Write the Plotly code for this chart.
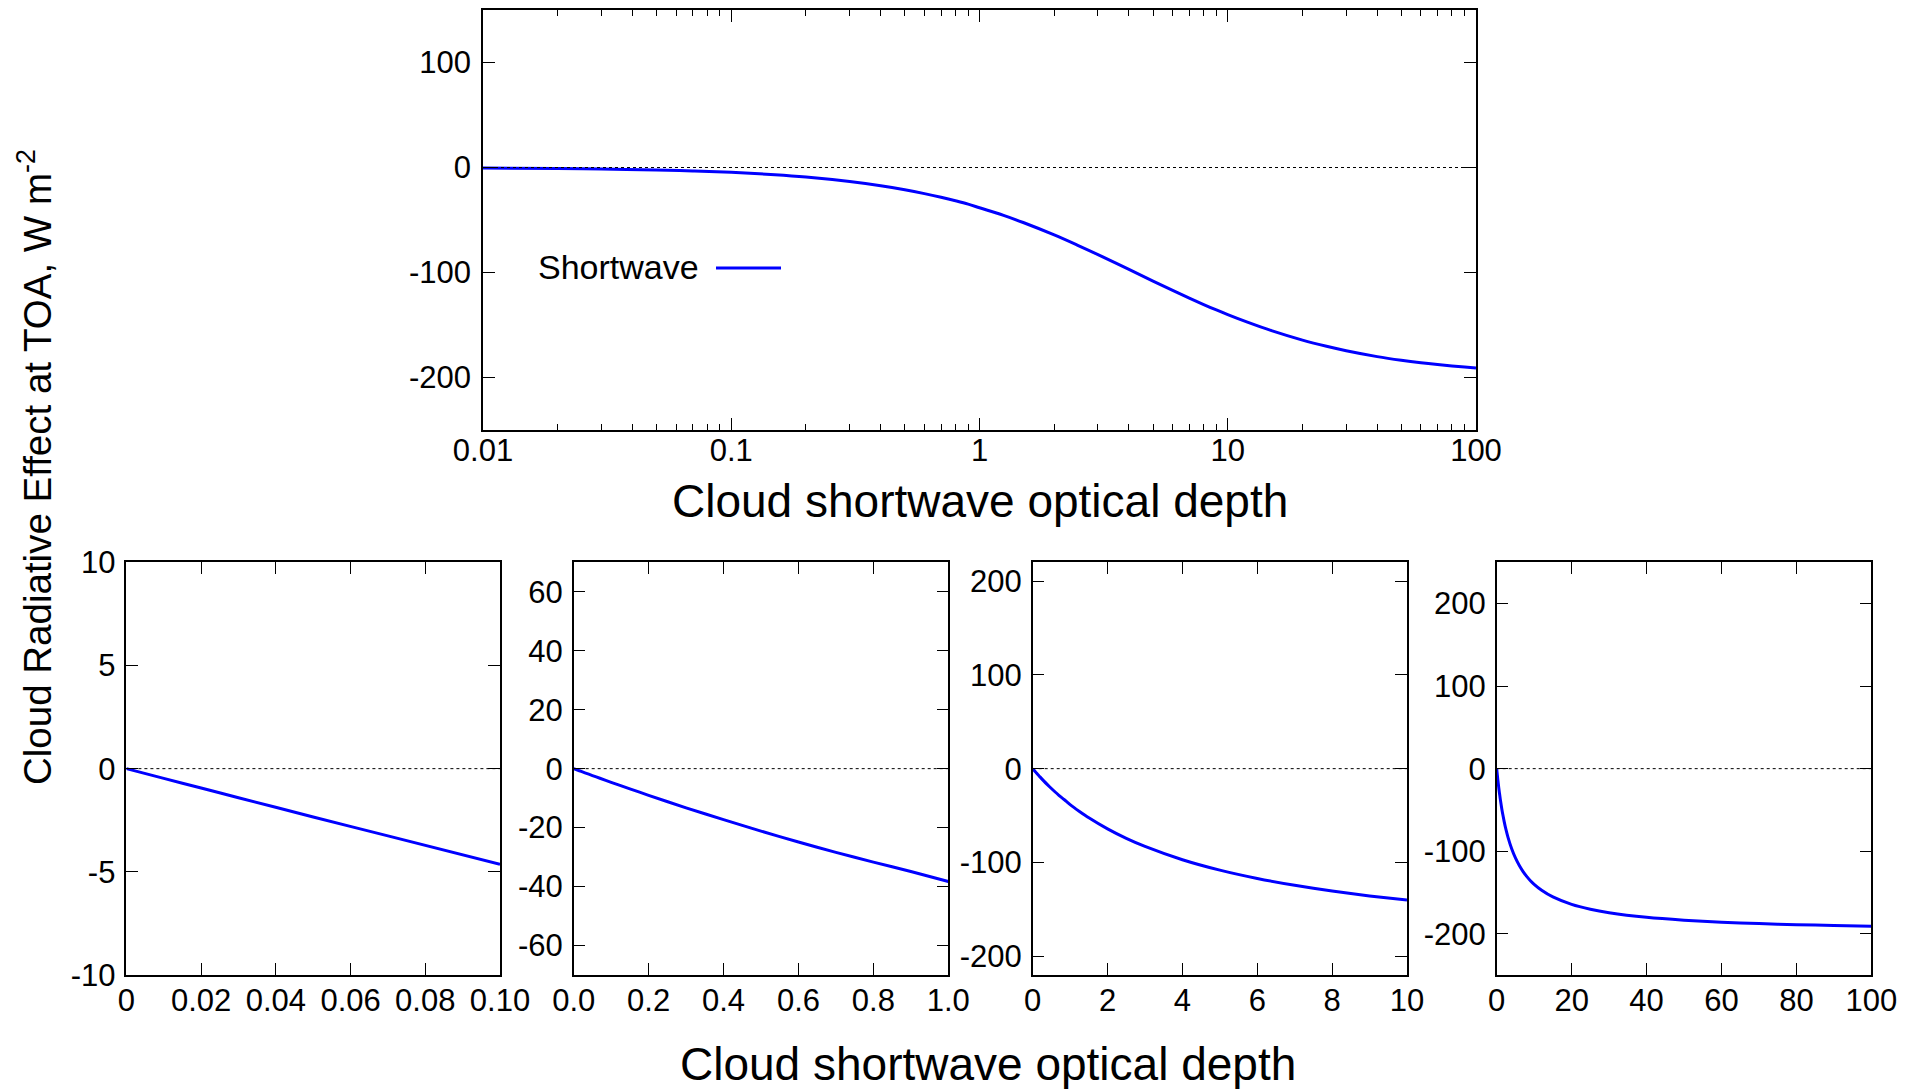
import plotly.graph_objects as go

# ---- data ----
tau = [0, 0.01, 0.02, 0.03, 0.05, 0.07, 0.1, 0.15, 0.2, 0.3, 0.4, 0.5, 0.6, 0.7,
       0.8, 0.9, 1.0, 1.25, 1.5, 2, 2.5, 3, 4, 5, 6, 7, 8, 9, 10, 12, 15, 20,
       25, 30, 40, 50, 60, 70, 80, 90, 100]
cre = [0, -0.47, -0.94, -1.41, -2.34, -3.26, -4.63, -6.86, -9.04, -13.3, -17.3,
       -21.2, -24.9, -28.4, -31.7, -34.9, -38.3, -45.6, -52.4, -64.2, -74.3,
       -82.9, -97.1, -108.2, -117.1, -124.4, -130.5, -135.7, -140.1, -147.3,
       -155.4, -164.4, -170.3, -174.5, -180.1, -183.6, -186.0, -187.7, -189.0,
       -190.1, -191.0]

series_name = "Shortwave"
x_title = "Cloud shortwave optical depth"
y_title = "Cloud Radiative Effect at TOA, W m<sup>-2</sup>"

top_xticks = [0.01, 0.1, 1, 10, 100]
top_xticklabels = ["0.01", "0.1", "1", "10", "100"]
top_yticks = [-200, -100, 0, 100]
top_yticklabels = ["-200", "-100", "0", "100"]

panel_xmax = [0.1, 1.0, 10, 100]
panel_xticks = [[0, 0.02, 0.04, 0.06, 0.08, 0.1],
                [0, 0.2, 0.4, 0.6, 0.8, 1.0],
                [0, 2, 4, 6, 8, 10],
                [0, 20, 40, 60, 80, 100]]
panel_xticklabels = [["0", "0.02", "0.04", "0.06", "0.08", "0.10"],
                     ["0.0", "0.2", "0.4", "0.6", "0.8", "1.0"],
                     ["0", "2", "4", "6", "8", "10"],
                     ["0", "20", "40", "60", "80", "100"]]
panel_yrange = [[-10, 10], [-70, 70], [-220, 220], [-250, 250]]
panel_yticks = [[-10, -5, 0, 5, 10],
                [-60, -40, -20, 0, 20, 40, 60],
                [-200, -100, 0, 100, 200],
                [-200, -100, 0, 100, 200]]
panel_yticklabels = [["-10", "-5", "0", "5", "10"],
                     ["-60", "-40", "-20", "0", "20", "40", "60"],
                     ["-200", "-100", "0", "100", "200"],
                     ["-200", "-100", "0", "100", "200"]]

# ---- figure ----
OFF = 8                      # browser body margin
W, H = 1929 - OFF, 1089 - OFF
FONT = "Liberation Sans, Arial, Helvetica, sans-serif"
BLUE = "#0000ff"

def fx(px):
    return (px - OFF) / W

def fy(py):
    return 1 - (py - OFF) / H

fig = go.Figure()

axis_common = dict(showline=True, linecolor="black", linewidth=1.5, mirror="ticks",
                   ticks="inside", ticklen=12, tickwidth=1.2, tickcolor="black",
                   showgrid=False, zeroline=False, automargin=False,
                   tickfont=dict(family=FONT, size=31, color="black"))

# top log panel
lx = [t for t in tau if t > 0]
ly = [c for t, c in zip(tau, cre) if t > 0]
fig.add_trace(go.Scatter(x=lx, y=ly, mode="lines", line=dict(color=BLUE, width=3, shape="spline"),
                         xaxis="x", yaxis="y", showlegend=False, name=series_name))
fig.update_layout(
    xaxis=dict(domain=[fx(483), fx(1476)], type="log", range=[-2, 2], anchor="y",
               tickvals=top_xticks, ticktext=top_xticklabels, ticklabelstandoff=-8,
               minor=dict(ticks="inside", ticklen=6, tickcolor="black", tickwidth=1, dtick="D1"),
               **axis_common),
    yaxis=dict(domain=[fy(430), fy(10)], range=[-250, 150], anchor="x",
               tickvals=top_yticks, ticktext=top_yticklabels, ticklabelstandoff=4,
               **axis_common),
)
fig.add_shape(type="line", xref="x domain", yref="y", x0=0, x1=1, y0=0, y1=0,
              line=dict(color="black", width=1, dash="dot"))

# bottom linear panels
panel_px = [(126.4, 500), (573.7, 948.3), (1032.7, 1407), (1496.7, 1871.3)]
for i in range(4):
    k = i + 2
    xs = [t for t in tau if t <= panel_xmax[i] + 1e-9]
    ys = [c for t, c in zip(tau, cre) if t <= panel_xmax[i] + 1e-9]
    fig.add_trace(go.Scatter(x=xs, y=ys, mode="lines",
                             line=dict(color=BLUE, width=3, shape="spline", smoothing=0.6),
                             xaxis=f"x{k}", yaxis=f"y{k}", showlegend=False, name=series_name))
    fig.layout[f"xaxis{k}"] = dict(domain=[fx(panel_px[i][0]), fx(panel_px[i][1])],
                                   range=[0, panel_xmax[i]], anchor=f"y{k}",
                                   tickvals=panel_xticks[i], ticktext=panel_xticklabels[i],
                                   ticklabelstandoff=-3, **axis_common)
    fig.layout[f"yaxis{k}"] = dict(domain=[fy(975), fy(562.3)], range=panel_yrange[i],
                                   anchor=f"x{k}", tickvals=panel_yticks[i],
                                   ticktext=panel_yticklabels[i], ticklabelstandoff=3,
                                   **axis_common)
    fig.add_shape(type="line", xref=f"x{k} domain", yref=f"y{k}", x0=0, x1=1, y0=0, y1=0,
                  line=dict(color="black", width=1, dash="dot"))

# legend (text left of line, as in the reference)
fig.add_annotation(x=fx(701), y=fy(267), xref="paper", yref="paper", text=series_name,
                   showarrow=False, xanchor="right", yanchor="middle",
                   font=dict(family=FONT, size=34, color="black"))
fig.add_shape(type="line", xref="paper", yref="paper", x0=fx(716), x1=fx(781),
              y0=fy(268), y1=fy(268), line=dict(color=BLUE, width=3))

# titles
fig.add_annotation(x=fx(980), y=fy(501), xref="paper", yref="paper", text=x_title,
                   showarrow=False, xanchor="center", yanchor="middle",
                   font=dict(family=FONT, size=46, color="black"))
fig.add_annotation(x=fx(988), y=fy(1064), xref="paper", yref="paper", text=x_title,
                   showarrow=False, xanchor="center", yanchor="middle",
                   font=dict(family=FONT, size=46, color="black"))
fig.add_annotation(x=fx(35), y=fy(467), xref="paper", yref="paper", text=y_title,
                   showarrow=False, xanchor="center", yanchor="middle", textangle=-90,
                   font=dict(family=FONT, size=38.5, color="black"))

fig.update_layout(width=W, height=H, margin=dict(l=0, r=0, t=0, b=0),
                  paper_bgcolor="white", plot_bgcolor="white", showlegend=False)

fig.write_html("out.html")
